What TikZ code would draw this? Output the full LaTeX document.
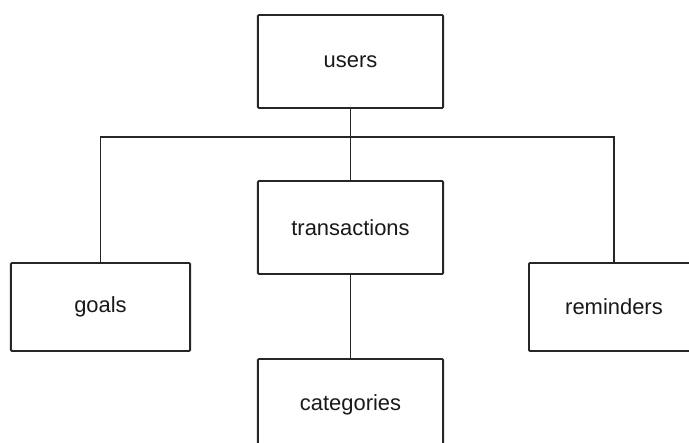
\documentclass[tikz,border=0pt]{standalone}
\usepackage{fontspec}
\setmainfont{Liberation Sans}
\begin{document}
\begin{tikzpicture}[x=0.025cm,y=0.025cm,line width=1.4pt,draw=black!85,
  tbl/.style={draw,rectangle,rounded corners=0.8pt,fill=white,inner sep=0pt,
    font=\fontsize{15.6}{18}\selectfont,text=black!90}]
\useasboundingbox (0,0) rectangle (689,442);
\clip (0,0) rectangle (689,442);
\node[tbl,minimum width=4.625cm,minimum height=2.325cm] (users) at (350.5,380.5) {users};
\node[tbl,minimum width=4.625cm,minimum height=2.325cm] (transactions) at (350.5,214.5) {transactions};
\node[tbl,minimum width=4.625cm,minimum height=2.3cm] (categories) at (350.5,37) {categories};
\node[tbl,minimum width=4.475cm,minimum height=2.2cm] (goals) at (100.5,135) {goals};
\node[tbl,minimum width=4.25cm,minimum height=2.2cm] (reminders) at (614,135) {reminders};
\coordinate (bus) at (350.5,305);
\draw (users) -- (transactions); \draw (transactions) -- (categories);
\draw (goals.north) |- (bus) -| (reminders.north);
\end{tikzpicture}
\end{document}
